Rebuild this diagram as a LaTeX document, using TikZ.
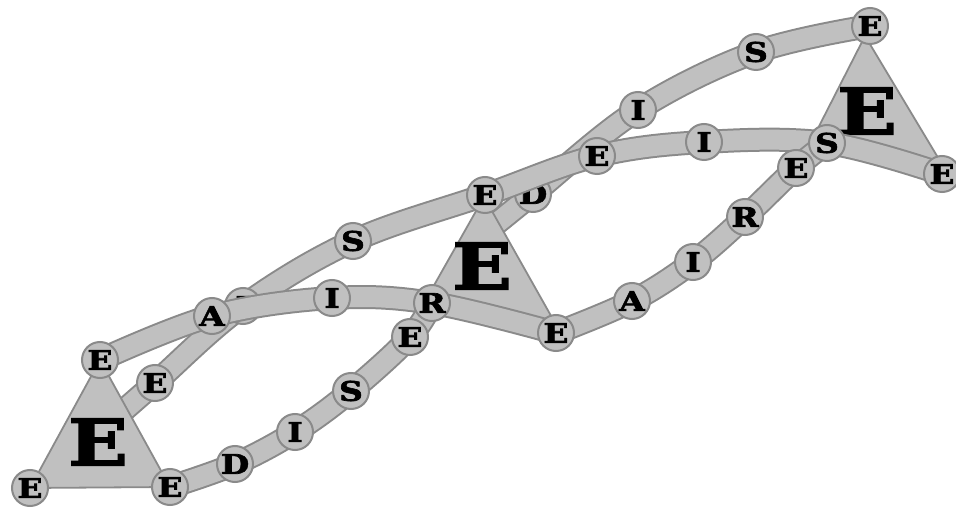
\documentclass[tikz,border=0pt]{standalone}
\usepackage{fontspec}
\newfontfamily\clar{DejaVu Serif}[FakeStretch=1.22,FakeBold=2.5]
\definecolor{bfill}{HTML}{C0C0C0}
\definecolor{bline}{HTML}{8A8A8A}
\pgfdeclarelayer{la}\pgfdeclarelayer{lb}\pgfdeclarelayer{lc}\pgfdeclarelayer{ld}
\pgfdeclarelayer{le}\pgfdeclarelayer{lf}\pgfdeclarelayer{lg}
\pgfsetlayers{la,lb,lc,ld,le,lf,lg,main}
\newcommand\myband[1]{%
  \draw[bout] plot[smooth,tension=0.6] coordinates {#1};
  \draw[bin] plot[smooth,tension=0.6] coordinates {#1};}
\begin{document}
\begin{tikzpicture}[x=1pt,y=-1pt,
  ln/.style={circle,draw=bline,fill=bfill,line width=2pt,minimum size=36pt,inner sep=0pt,
    font=\clar\fontsize{27}{30}\selectfont\bfseries},
  bigE/.style={inner sep=0pt,font=\clar\fontsize{64}{70}\selectfont\bfseries},
  tri/.style={draw=bline,fill=bfill,line width=1.8pt,line join=round},
  bout/.style={draw=bline,line width=24pt},
  bin/.style={draw=bfill,line width=20pt}]
\useasboundingbox (0,0) rectangle (956,510);
% ---- nodes on top ----
\node[ln] (E1t) at (100,360) {E};
\node[ln] (E1l) at (30,488) {E};
\node[ln] (E1r) at (170,487) {E};
\node[ln] (A1) at (212,316) {A};
\node[ln] (I1) at (332,298) {I};
\node[ln] (E408) at (410,337) {E};
\node[ln] (R1) at (432,303) {R};
\node[ln] (E556) at (556,333) {E};
\node[ln] (E2a) at (155,383) {E};
\node[ln] (S2) at (353,241) {S};
\node[ln] (E485) at (485,195) {E};
\node[ln] (E597) at (597,156) {E};
\node[ln] (I704) at (704,142) {I};
\node[ln] (E795) at (796,168) {E};
\node[ln] (S826) at (827,143) {S};
\node[ln] (E943) at (942,174) {E};
\node[ln] (D3) at (235,464) {D};
\node[ln] (I3) at (295,432) {I};
\node[ln] (S3) at (351,391) {S};
\node[ln] (A4) at (632,301) {A};
\node[ln] (I4) at (693,262) {I};
\node[ln] (R4) at (745,217) {R};
\node[ln] (I5) at (638,110) {I};
\node[ln] (S5) at (756,52) {S};
\node[ln] (E869) at (870,26) {E};
\coordinate (c2s) at (115,418);
\coordinate (c5s) at (486,232);
% ---- partly hidden nodes ----
\begin{pgfonlayer}{lc}
\node[ln] (D5) at (533,194) {D};
\end{pgfonlayer}
\begin{pgfonlayer}{lf}
\node[ln] (H) at (243,306) {I};
\end{pgfonlayer}
% ---- bands and triangles ----
\begin{pgfonlayer}{la}
\myband{(c5s) (D5.center) (I5.center) (S5.center) (E869.center)}
\end{pgfonlayer}
\begin{pgfonlayer}{lb}
\draw[tri] (484,197) -- (424,303) -- (559,330) -- cycle;
\node[bigE] (BE2) at (482,266) {E};
\draw[tri] (865,36) -- (811,142) -- (946,171) -- cycle;
\node[bigE] (BE3) at (867,111) {E};
\end{pgfonlayer}
\begin{pgfonlayer}{ld}
\myband{(c2s) (E2a.center) (H.center) (S2.center) (E485.center) (E597.center) (I704.center) (S826.center) (E943.center)}
\end{pgfonlayer}
\begin{pgfonlayer}{le}
\draw[tri] (E1t.center) -- (E1l.center) -- (E1r.center) -- cycle;
\node[bigE] (BE1) at (98,442) {E};
\end{pgfonlayer}
\begin{pgfonlayer}{lg}
\myband{(E1t.center) (A1.center) (I1.center) (R1.center) (E556.center)}
\myband{(E1r.center) (D3.center) (I3.center) (S3.center) (E408.center) (R1.center)}
\myband{(E556.center) (A4.center) (I4.center) (R4.center) (E795.center) (S826.center)}
\end{pgfonlayer}
\end{tikzpicture}
\end{document}
